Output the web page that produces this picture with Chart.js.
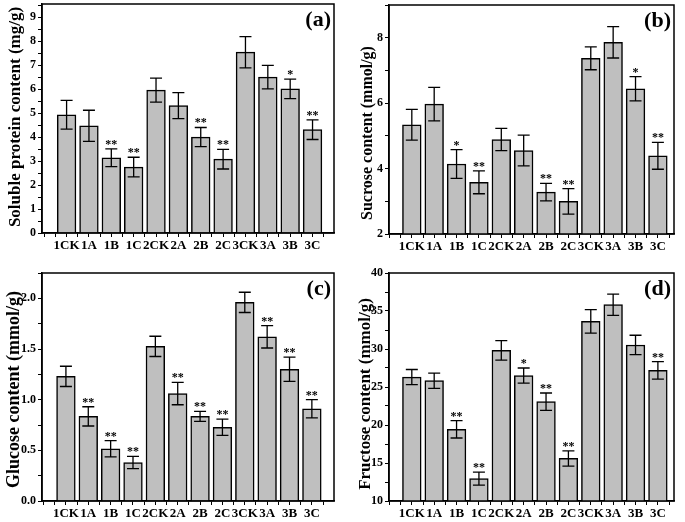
<!DOCTYPE html>
<html>
<head>
<meta charset="utf-8">
<script src="https://cdn.jsdelivr.net/npm/chart.js@4.4.1/dist/chart.umd.min.js"></script>
<style>
    html, body { margin: 0; padding: 0; background: #fff; }
    #lienzo { position: relative; width: 685px; height: 522px; }
    canvas { position: absolute; }
</style>
</head>
<body>
<div id="lienzo">
    <canvas id="panelA" width="342" height="261" style="left:0;top:0"></canvas>
    <canvas id="panelB" width="343" height="261" style="left:342px;top:0"></canvas>
    <canvas id="panelC" width="342" height="261" style="left:0;top:261px"></canvas>
    <canvas id="panelD" width="343" height="261" style="left:342px;top:261px"></canvas>
</div>
<script>
// =====================================
// DATOS
// =====================================

const grupos = ["1CK", "1A", "1B", "1C", "2CK", "2A", "2B", "2C", "3CK", "3A", "3B", "3C"];

const proteina    = [4.93, 4.47, 3.14, 2.75, 5.96, 5.31, 4.00, 3.08, 7.54, 6.50, 6.01, 4.31];
const proteinaErr = [0.60, 0.65, 0.37, 0.41, 0.50, 0.54, 0.40, 0.41, 0.65, 0.49, 0.41, 0.41];
const proteinaSig = ["", "", "**", "**", "", "", "**", "**", "", "", "*", "**"];

const sacarosa    = [5.34, 5.97, 4.14, 3.58, 4.89, 4.55, 3.28, 3.00, 7.37, 7.86, 6.44, 4.39];
const sacarosaErr = [0.47, 0.51, 0.44, 0.35, 0.34, 0.47, 0.27, 0.39, 0.35, 0.48, 0.37, 0.41];
const sacarosaSig = ["", "", "*", "**", "", "", "**", "**", "", "", "*", "**"];

const glucosa    = [1.23, 0.835, 0.516, 0.38, 1.526, 1.06, 0.835, 0.727, 1.96, 1.62, 1.30, 0.91];
const glucosaErr = [0.10, 0.095, 0.08, 0.06, 0.10, 0.11, 0.05, 0.08, 0.10, 0.11, 0.12, 0.09];
const glucosaSig = ["", "**", "**", "**", "", "**", "**", "**", "", "**", "**", "**"];

const fructosa    = [26.3, 25.83, 19.43, 12.94, 29.82, 26.5, 23.07, 15.6, 33.64, 35.83, 30.53, 27.19];
const fructosaErr = [1.0, 1.0, 1.14, 0.85, 1.28, 1.0, 1.14, 1.0, 1.54, 1.4, 1.28, 1.15];
const fructosaSig = ["", "", "**", "**", "", "*", "**", "**", "", "", "", "**"];

const FUENTE = "'Liberation Serif', 'Times New Roman', serif";

Chart.defaults.font.family = FUENTE;
Chart.defaults.font.weight = "bold";
Chart.defaults.color = "#000";

// =====================================
// PLUGINS
// =====================================

const marco = {
    id: "marco",
    afterDraw(chart) {
        const { ctx, chartArea: a } = chart;
        ctx.save();
        ctx.strokeStyle = "#000";
        ctx.lineWidth = 1.5;
        ctx.strokeRect(a.left, a.top, a.right - a.left, a.bottom - a.top);
        ctx.restore();
    }
};

const barrasError = {
    id: "barrasError",
    afterDatasetsDraw(chart, args, opts) {
        const { ctx } = chart;
        const y = chart.scales.y;
        const puntos = chart.data.datasets[0].data;
        ctx.save();
        ctx.strokeStyle = "#000";
        ctx.fillStyle = "#000";
        ctx.lineWidth = 1.3;
        chart.getDatasetMeta(0).data.forEach((bar, i) => {
            const v = puntos[i].y;
            const e = opts.errores[i];
            const arriba = y.getPixelForValue(v + e);
            const abajo = y.getPixelForValue(v - e);
            ctx.beginPath();
            ctx.moveTo(bar.x, arriba); ctx.lineTo(bar.x, abajo);
            ctx.moveTo(bar.x - 6, arriba); ctx.lineTo(bar.x + 6, arriba);
            ctx.moveTo(bar.x - 6, abajo); ctx.lineTo(bar.x + 6, abajo);
            ctx.stroke();
            if (opts.signos[i]) {
                ctx.font = "bold 12px " + FUENTE;
                ctx.textAlign = "center";
                ctx.textBaseline = "alphabetic";
                ctx.fillText(opts.signos[i], bar.x, arriba - 1);
            }
        });
        ctx.restore();
    }
};

const rotulos = {
    id: "rotulos",
    afterDraw(chart, args, opts) {
        const { ctx, chartArea: a } = chart;
        ctx.save();
        ctx.fillStyle = "#000";
        // titulo del eje y
        ctx.translate(opts.tx, opts.ty);
        ctx.rotate(-Math.PI / 2);
        ctx.font = "bold " + opts.tamano + "px " + FUENTE;
        ctx.textAlign = "center";
        ctx.textBaseline = "middle";
        ctx.fillText(opts.titulo, 0, 0);
        ctx.restore();
        // letra del panel
        ctx.save();
        ctx.font = "bold 22px " + FUENTE;
        ctx.textAlign = "right";
        ctx.textBaseline = "alphabetic";
        ctx.fillText(opts.letra, a.right - 3, a.top + 22);
        ctx.restore();
    }
};

// =====================================
// PANEL
// =====================================

function crearPanel(id, p) {
    const canvas = document.getElementById(id);
    const W = canvas.width, H = canvas.height;

    return new Chart(canvas, {
        type: "bar",
        data: {
            datasets: [{
                data: p.valores.map((v, i) => ({ x: i, y: v })),
                backgroundColor: "#bfbfbf",
                borderColor: "#000",
                borderWidth: 1.5,
                barThickness: 18.7
            }]
        },
        options: {
            responsive: false,
            animation: false,
            layout: { padding: { top: p.T, right: W - p.R, left: 0, bottom: 0 } },
            plugins: {
                legend: { display: false },
                tooltip: { enabled: false },
                barrasError: { errores: p.errores, signos: p.signos },
                rotulos: { titulo: p.titulo, tamano: p.tamano, tx: p.tx, ty: p.ty, letra: p.letra }
            },
            scales: {
                x: {
                    type: "linear",
                    offset: false,
                    min: p.xmin,
                    max: p.xmax,
                    grid: { offset: false, drawOnChartArea: false, drawTicks: true, tickLength: 4, color: "#000", lineWidth: 1 },
                    border: { display: true, color: "#000", width: 1.5 },
                    ticks: {
                        stepSize: 0.5,
                        includeBounds: false,
                        autoSkip: false,
                        maxTicksLimit: 100,
                        maxRotation: 0,
                        padding: 1,
                        font: { size: 13, weight: "bold" },
                        callback: v => (Number.isInteger(v) && v >= 0 && v < grupos.length) ? grupos[v] : ""
                    },
                    afterFit: s => { s.height = H - p.B; s.paddingLeft = 0; s.paddingRight = 0; }
                },
                y: {
                    min: p.ymin,
                    max: p.ymax,
                    beginAtZero: false,
                    grid: { drawOnChartArea: false, drawTicks: true, tickLength: 4, color: "#000", lineWidth: 1 },
                    border: { display: true, color: "#000", width: 1.5 },
                    ticks: {
                        stepSize: p.paso,
                        includeBounds: false,
                        autoSkip: false,
                        maxTicksLimit: 100,
                        padding: 2,
                        font: { size: 12, weight: "bold" },
                        callback: p.etiqueta
                    },
                    afterFit: s => { s.width = p.L; s.paddingTop = 0; s.paddingBottom = 0; }
                }
            }
        },
        plugins: [barrasError, marco, rotulos]
    });
}

const esMultiplo = (v, m) => Math.abs(v / m - Math.round(v / m)) < 1e-9;

crearPanel("panelA", {
    valores: proteina, errores: proteinaErr, signos: proteinaSig,
    titulo: "Soluble protein content (mg/g)", tamano: 17, tx: 15.5, ty: 117, letra: "(a)",
    L: 42, R: 334, T: 4, B: 233, xmin: -1.1, xmax: 11.96,
    ymin: 0, ymax: 9.55, paso: 0.5,
    etiqueta: v => esMultiplo(v, 1) ? String(v) : ""
});

crearPanel("panelB", {
    valores: sacarosa, errores: sacarosaErr, signos: sacarosaSig,
    titulo: "Sucrose content (mmol/g)", tamano: 16, tx: 25.5, ty: 133, letra: "(b)",
    L: 47, R: 332, T: 5, B: 234, xmin: -1.02, xmax: 11.72,
    ymin: 2, ymax: 9, paso: 1,
    etiqueta: v => esMultiplo(v, 2) ? String(v) : ""
});

crearPanel("panelC", {
    valores: glucosa, errores: glucosaErr, signos: glucosaSig,
    titulo: "Glucose content (mmol/g)", tamano: 18, tx: 14.5, ty: 128.5, letra: "(c)",
    L: 42, R: 334, T: 12, B: 240, xmin: -1.07, xmax: 11.99,
    ymin: 0, ymax: 2.25, paso: 0.25,
    etiqueta: v => esMultiplo(v, 0.5) ? v.toFixed(1) : ""
});

crearPanel("panelD", {
    valores: fructosa, errores: fructosaErr, signos: fructosaSig,
    titulo: "Fructose content (mmol/g)", tamano: 17, tx: 23.5, ty: 133, letra: "(d)",
    L: 47, R: 332, T: 12, B: 240, xmin: -1.02, xmax: 11.72,
    ymin: 10, ymax: 40, paso: 2.5,
    etiqueta: v => esMultiplo(v, 5) ? String(v) : ""
});
</script>
</body>
</html>
